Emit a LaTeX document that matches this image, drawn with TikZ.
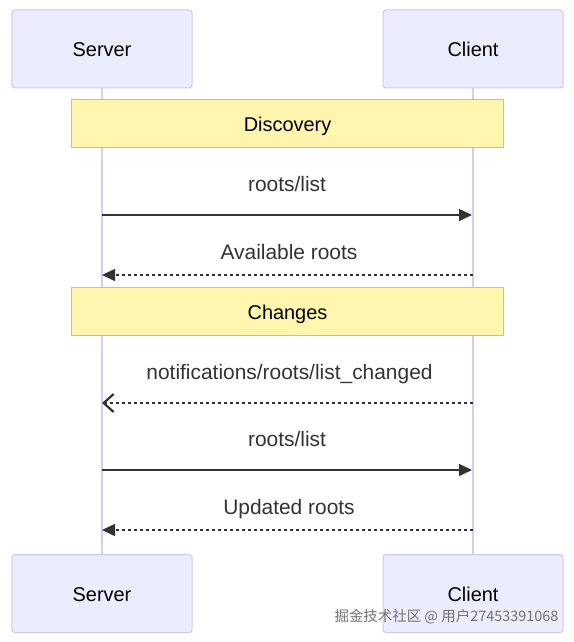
\documentclass[tikz,border=0pt]{standalone}
\usepackage{fontspec}
\setmainfont{Liberation Sans}
\newfontfamily\cjk{Noto Sans CJK SC}
\usetikzlibrary{arrows.meta}
\definecolor{actfill}{HTML}{ECECFF}
\definecolor{actdraw}{HTML}{CFC8F0}
\definecolor{lifeln}{HTML}{D4CFF2}
\definecolor{notefill}{HTML}{FFF5AD}
\definecolor{notedraw}{HTML}{C8C864}
\definecolor{msgcol}{HTML}{333333}
\tikzset{
  actor/.style={draw=actdraw, fill=actfill, rounded corners=3bp, line width=1bp,
    minimum width=180bp, minimum height=78bp, inner sep=0pt},
  actortext/.style={anchor=base, inner sep=0pt, font=\fontsize{20}{23}\selectfont, text=black},
  notebox/.style={draw=notedraw, fill=notefill, line width=1bp,
    minimum width=431bp, minimum height=48bp, inner sep=0pt},
  lifeline/.style={draw=lifeln, line width=1.2bp},
  msglabel/.style={anchor=base, font=\fontsize{21}{24}\selectfont, text=msgcol, inner sep=0pt},
  msg/.style={draw=msgcol, line width=1.5bp, -{Triangle[length=13bp,width=12bp]}},
  reply/.style={msg, dash pattern=on 3bp off 3bp},
  async/.style={draw=msgcol, line width=1.5bp, dash pattern=on 3bp off 3bp,
    -{Straight Barb[length=10bp,width=18bp,line width=2.2bp]}},
}
\begin{document}
\begin{tikzpicture}[x=1bp,y=-1bp]
\useasboundingbox (0,0) rectangle (574,642);
\fill[white] (0,0) rectangle (574,642);
% lifeline anchors
\coordinate (st) at (102,88);
\coordinate (sb) at (102,555);
\coordinate (ct) at (473,88);
\coordinate (cb) at (473,555);
\draw[lifeline] (st) -- (sb);
\draw[lifeline] (ct) -- (cb);
% actors
\node[actor] (s1) at (102,49) {};
\node[actor] (c1) at (473,49) {};
\node[actor] (s2) at (102,593.5) {};
\node[actor] (c2) at (473,593.5) {};
\node[actortext] (s1t) at (102,57) {Server};
\node[actortext] (c1t) at (473,57) {Client};
\node[actortext] (s2t) at (102,601.5) {Server};
\node[actortext] (c2t) at (473,601.5) {Client};
% notes
\node[notebox] (n1) at (287.5,124) {};
\node[notebox] (n2) at (287.5,311.5) {};
\node[actortext] (n1t) at (287.5,131.5) {Discovery};
\node[actortext] (n2t) at (287.5,319) {Changes};
% message endpoints
\coordinate (m1s) at (102,215); \coordinate (m1c) at (472,215);
\coordinate (m2s) at (102,275); \coordinate (m2c) at (473,275);
\coordinate (m3s) at (102,403); \coordinate (m3c) at (473,403);
\coordinate (m4s) at (102,470); \coordinate (m4c) at (472,470);
\coordinate (m5s) at (102,530); \coordinate (m5c) at (473,530);
% labels
\node[msglabel] (l1) at (287,192) {roots/list};
\node[msglabel] (l2) at (289,259) {Available roots};
\node[msglabel] (l3) at (289.5,379) {notifications/roots/list\_changed};
\node[msglabel] (l4) at (287,446) {roots/list};
\node[msglabel] (l5) at (289,514) {Updated roots};
% messages
\draw[msg] (m1s) -- (m1c);
\draw[reply] (m2c) -- (m2s);
\draw[async] (m3c) -- (m3s);
\draw[msg] (m4s) -- (m4c);
\draw[reply] (m5c) -- (m5s);
% watermark
\node[font=\cjk\fontsize{14.5}{16}\selectfont, text=black!55, inner sep=0pt] (wm) at (446.5,617) {掘金技术社区 @ 用户27453391068};
\end{tikzpicture}
\end{document}
